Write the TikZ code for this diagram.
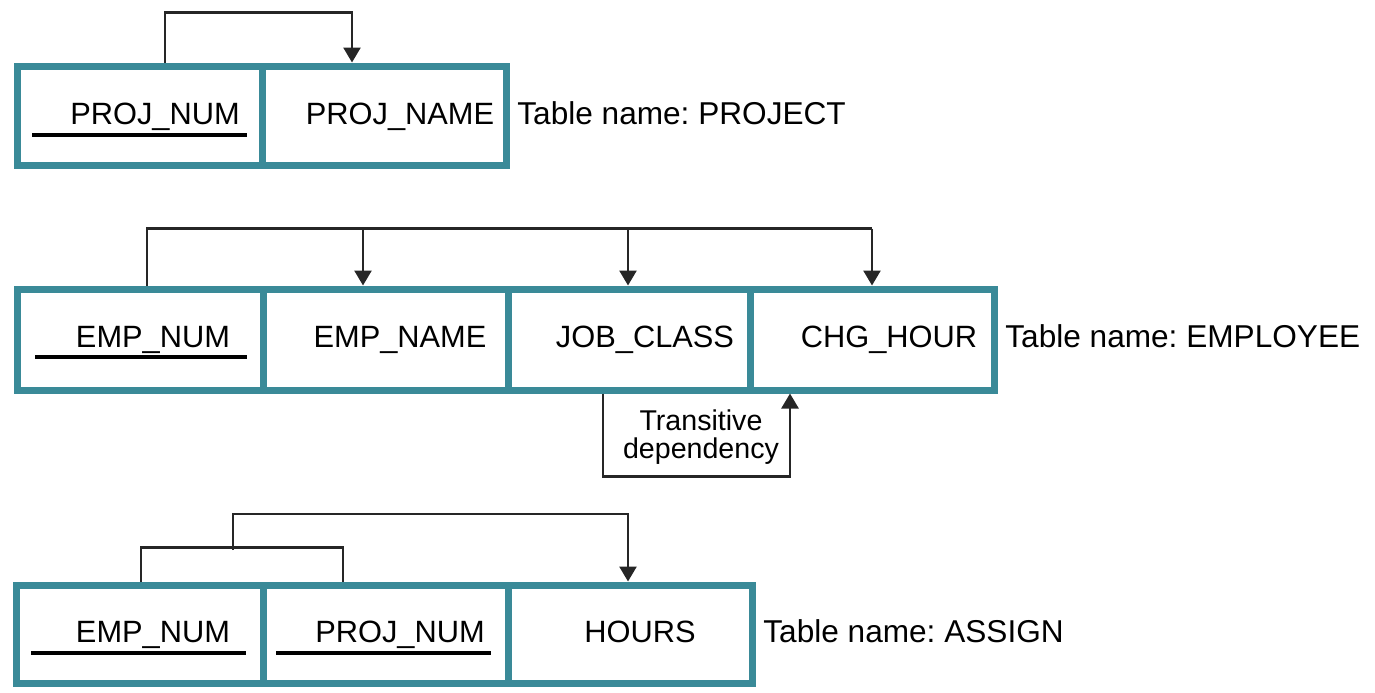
\documentclass[tikz,border=0pt]{standalone}
\usepackage{fontspec}
\setmainfont{Liberation Sans}
\usetikzlibrary{arrows.meta}
\definecolor{teal1}{RGB}{58,138,152}
\frenchspacing
\tikzset{
  cell/.style={draw=teal1, line width=3.5pt, rectangle, inner sep=0pt, fill=white},
  fld/.style={font=\fontsize{15.4}{18}\selectfont, anchor=base, inner sep=0pt},
  tname/.style={font=\fontsize{15.8}{18}\selectfont, anchor=base west, inner sep=0pt},
  link/.style={draw=black!85, line width=1.3pt},
  arr/.style={link, -{Triangle[length=7.5pt,width=8.5pt]}},
  ul/.style={draw=black, line width=1.6pt},
}
\begin{document}
\begin{tikzpicture}[x=0.5pt,y=-0.5pt]
\useasboundingbox (0,0) rectangle (1375,692);
% PROJECT
\node[cell, minimum width=122.5pt, minimum height=49.5pt] (p1) at (139.5,115.5) {};
\node[cell, minimum width=122pt, minimum height=49.5pt] (p2) at (384,115.5) {};
\node[fld] (p1t) at (155,124) {PROJ\_NUM};
\node[fld] (p2t) at (400,124) {PROJ\_NAME};
\node[tname] (pn) at (517,124) {Table name: PROJECT};
\draw[ul] (32,135) -- (247,135);
\draw[arr] ([shift={(25.5,0)}]p1.north) -- ++(0,-50) -| ([shift={(-32,0)}]p2.north);
% EMPLOYEE
\node[cell, minimum width=123pt, minimum height=50.5pt] (e1) at (140,339.5) {};
\node[cell, minimum width=122.5pt, minimum height=50.5pt] (e2) at (385.5,339.5) {};
\node[cell, minimum width=121pt, minimum height=50.5pt] (e3) at (629,339.5) {};
\node[cell, minimum width=122pt, minimum height=50.5pt] (e4) at (872,339.5) {};
\node[fld] (e1t) at (153,347) {EMP\_NUM};
\node[fld] (e2t) at (400,347) {EMP\_NAME};
\node[fld] (e3t) at (645,347) {JOB\_CLASS};
\node[fld] (e4t) at (889,347) {CHG\_HOUR};
\node[tname] (en) at (1005,347) {Table name: EMPLOYEE};
\draw[ul] (35,357) -- (247,357);
\coordinate (etop) at ([shift={(7,-57)}]e1.north);
\coordinate (e2in) at ([shift={(-22.5,0)}]e2.north);
\coordinate (e3in) at ([shift={(-1,0)}]e3.north);
\draw[link] ([shift={(7,0)}]e1.north) -- (etop) -- (etop -| e4.north);
\draw[arr] (etop -| e2in) -- (e2in);
\draw[arr] (etop -| e3in) -- (e3in);
\draw[arr] (etop -| e4.north) -- (e4.north);
% transitive
\draw[arr] ([shift={(-26,0)}]e3.south) -- ++(0,83) -| ([shift={(-82,0)}]e4.south);
\node[font=\fontsize{14.3}{14}\selectfont, align=center, inner sep=0pt] (td) at (701,437) {Transitive\\dependency};
% ASSIGN
\node[cell, minimum width=123.5pt, minimum height=49pt] (a1) at (139.5,634) {};
\node[cell, minimum width=122.5pt, minimum height=49pt] (a2) at (385.5,634) {};
\node[cell, minimum width=122pt, minimum height=49pt] (a3) at (630,634) {};
\node[fld] (a1t) at (153,642) {EMP\_NUM};
\node[fld] (a2t) at (400,642) {PROJ\_NUM};
\node[fld] (a3t) at (640,642) {HOURS};
\node[tname] (an) at (763,642) {Table name: ASSIGN};
\draw[ul] (31,653) -- (246,653);
\draw[ul] (276,653) -- (491,653);
\coordinate (abr) at ([shift={(1.5,-34)}]a1.north);
\draw[link] ([shift={(1.5,0)}]a1.north) -- (abr) -| ([shift={(-42.5,0)}]a2.north);
\coordinate (amid) at (233,550);
\draw[arr] (amid) -- ++(0,-36) -| ([shift={(-2,0)}]a3.north);
\end{tikzpicture}
\end{document}
